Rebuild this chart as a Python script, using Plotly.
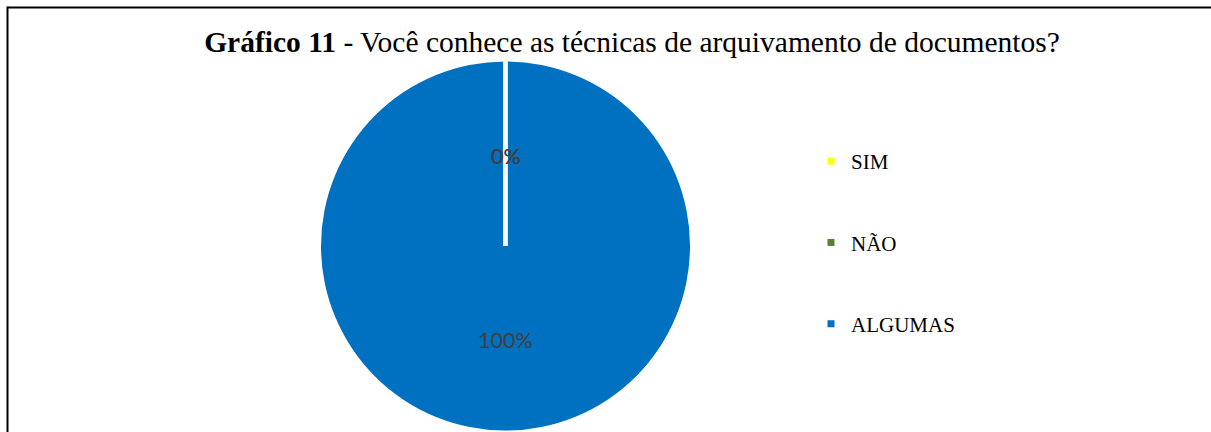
import math
import plotly.graph_objects as go

categories = ["SIM", "NÃO", "ALGUMAS"]
values = [0, 0, 100]
colors = ["#FFFF00", "#548235", "#0070C0"]
title_bold = "Gráfico 11"
title_rest = " - Você conhece as técnicas de arquivamento de documentos?"

W, H = 1211, 432
cx, cy, r = 505.5, 246.0, 184.5  # pixel geometry of pie


def to_paper(px, py):
    return px / W, 1 - py / H


dom_x = [(cx - r) / W, (cx + r) / W]
dom_y = [1 - (cy + r) / H, 1 - (cy - r) / H]

fig = go.Figure()
fig.add_trace(go.Pie(
    labels=categories, values=values, sort=False, direction="clockwise",
    rotation=0, marker=dict(colors=colors, line=dict(color="white", width=0)),
    textinfo="none", hoverinfo="label+percent", showlegend=False,
    domain=dict(x=dom_x, y=dom_y),
))

# legend entries
for c, col in zip(categories, colors):
    fig.add_trace(go.Scatter(
        x=[None], y=[None], mode="markers", name=c, legendgroup=c,
        marker=dict(symbol="square", size=7, color=col),
    ))

# percentage labels at half radius + white slice boundaries, from cumulative share
total = sum(values)
cum = 0
annots = []
shapes = []
for v in values:
    a0 = 2 * math.pi * cum / total
    x0, y0 = to_paper(cx, cy)
    x1, y1 = to_paper(cx + r * math.sin(a0), cy - r * math.cos(a0))
    shapes.append(dict(type="line", xref="paper", yref="paper",
                       x0=x0, y0=y0, x1=x1, y1=y1,
                       line=dict(color="white", width=4)))
    ang = 2 * math.pi * (cum + v / 2) / total
    px, py = to_paper(cx + 0.5 * r * math.sin(ang), cy - 0.5 * r * math.cos(ang) + 2)
    annots.append(dict(
        x=px, y=py, xref="paper", yref="paper",
        text=f"{round(100 * v / total)}%", showarrow=False,
        font=dict(family="Lato, Open Sans, sans-serif", size=21.5, color="#404040"),
        xanchor="center", yanchor="middle",
    ))
    cum += v

# chart frame (top and left edges visible)
shapes.append(dict(type="line", xref="paper", yref="paper",
                   x0=7.5 / W, x1=1.02, y0=1 - 7.5 / H, y1=1 - 7.5 / H,
                   line=dict(color="black", width=2)))
shapes.append(dict(type="line", xref="paper", yref="paper",
                   x0=7.5 / W, x1=7.5 / W, y0=-0.02, y1=1 - 6.5 / H,
                   line=dict(color="black", width=2)))

fig.update_layout(
    width=W, height=H,
    margin=dict(l=0, r=0, t=0, b=0),
    paper_bgcolor="white", plot_bgcolor="white",
    title=dict(
        text=f"<b>{title_bold}</b>{title_rest}",
        x=632 / W, xanchor="center", y=1 - 42 / H, yanchor="middle",
        font=dict(family="Liberation Serif, Times New Roman, serif", size=29.5, color="black"),
    ),
    xaxis=dict(visible=False, showline=False, showgrid=False, zeroline=False),
    yaxis=dict(visible=False, showline=False, showgrid=False, zeroline=False),
    legend=dict(
        x=811 / W, xanchor="left", y=1 - 141 / H, yanchor="top",
        traceorder="grouped", tracegroupgap=51,
        font=dict(family="Liberation Serif, Times New Roman, serif", size=21, color="black"),
        bgcolor="rgba(0,0,0,0)", borderwidth=0,
    ),
    annotations=annots,
    shapes=shapes,
)

fig.write_html(
    "out.html", config={"displayModeBar": False},
    post_script="document.body.style.margin='0';"
                "document.body.style.overflow='hidden';"
                "document.documentElement.style.overflow='hidden';",
)
